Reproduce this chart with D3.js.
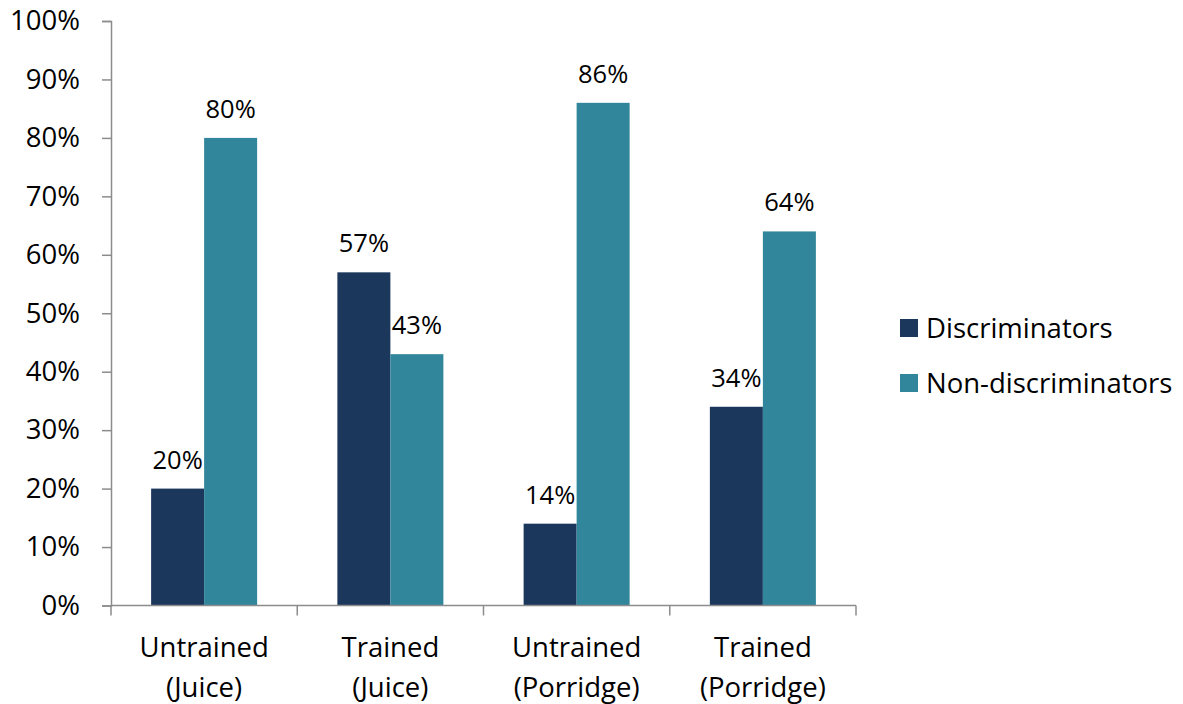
<!DOCTYPE html>
<html><head><meta charset="utf-8">
<script src="https://cdn.jsdelivr.net/npm/d3@7"></script>
<style>
body{margin:0;background:#fff;}
text{font-family:"Open Sans",sans-serif;fill:#000;}
</style></head><body>
<svg id="c" width="1183" height="704"></svg>
<script>
const categories = [["Untrained","(Juice)"],["Trained","(Juice)"],["Untrained","(Porridge)"],["Trained","(Porridge)"]];
const seriesNames = ["Discriminators","Non-discriminators"];
const discriminators = [20,57,14,34];
const nonDiscriminators = [80,43,86,64];
const yTicks = [0,10,20,30,40,50,60,70,80,90,100];
const colors = ["#1b375c","#31869b"];

const svg = d3.select("#c");
const fs = 27.5;
const x0 = 111, x1 = 856, y0 = 605.5, y1 = 21;
const catIdx = d3.range(categories.length);
const x = d3.scaleBand().domain(catIdx).range([x0,x1]).padding(0);
const xi = d3.scaleBand().domain([0,1]).range([0,x.bandwidth()]).paddingInner(0).paddingOuter(0.757);
const y = d3.scaleLinear().domain([0,100]).range([y0,y1]);
const seriesVals = [discriminators, nonDiscriminators];

// bars
seriesVals.forEach((vals,s)=>{
  svg.append("g").selectAll("rect").data(vals).join("rect")
    .attr("x",(d,i)=>x(i)+xi(s)).attr("width",xi.bandwidth())
    .attr("y",d=>y(d)).attr("height",d=>y(0)-y(d))
    .attr("fill",colors[s]);
  svg.append("g").selectAll("text").data(vals).join("text")
    .attr("x",(d,i)=>x(i)+xi(s)+xi.bandwidth()/2)
    .attr("y",d=>y(d)-20)
    .attr("text-anchor","middle").attr("font-size",25.5)
    .text(d=>d+"%");
});

// y axis
const yAxis = svg.append("g").attr("transform",`translate(${x0},0)`)
  .call(d3.axisLeft(y).tickValues(yTicks).tickSize(9).tickFormat(d=>d+"%"));
yAxis.selectAll("line,path").attr("stroke","#8c8c8c").attr("stroke-width",1.5);
yAxis.selectAll("text").attr("font-size",fs).attr("font-family","Open Sans").attr("fill","#000").attr("x",-31);

// x axis
const xg = svg.append("g");
xg.append("line").attr("x1",x0).attr("x2",x1).attr("y1",y0).attr("y2",y0).attr("stroke","#8c8c8c").attr("stroke-width",1.5);
xg.selectAll("line.t").data(d3.range(categories.length+1)).join("line").attr("class","t")
  .attr("x1",i=>x0+i*x.step()).attr("x2",i=>x0+i*x.step())
  .attr("y1",y0).attr("y2",y0+10).attr("stroke","#8c8c8c").attr("stroke-width",1.5);
categories.forEach((c,i)=>{
  const t = xg.append("text").attr("text-anchor","middle").attr("font-size",fs)
    .attr("x",x(i)+x.bandwidth()/2).attr("y",657);
  t.append("tspan").attr("x",x(i)+x.bandwidth()/2).text(c[0]);
  t.append("tspan").attr("x",x(i)+x.bandwidth()/2).attr("dy",40).text(c[1]);
});

// legend
const lg = svg.append("g");
seriesNames.forEach((n,s)=>{
  const cy = 328 + s*55;
  lg.append("rect").attr("x",900).attr("y",cy-9).attr("width",18).attr("height",18).attr("fill",colors[s]);
  lg.append("text").attr("x",926).attr("y",cy).attr("dy","0.35em").attr("font-size",fs).text(n);
});
</script></body></html>
